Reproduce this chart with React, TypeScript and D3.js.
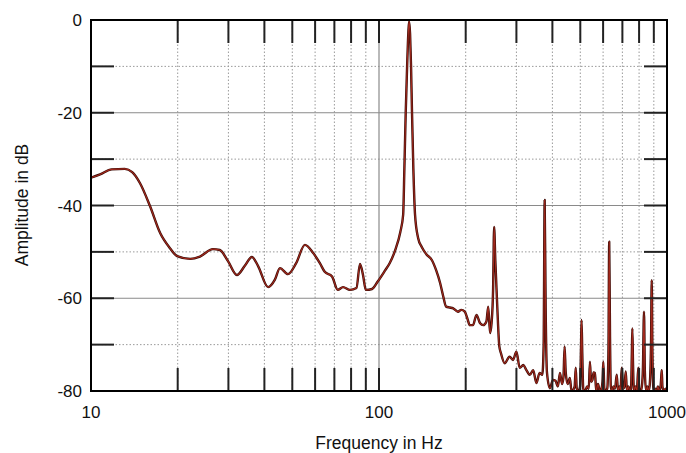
import React from "react";
import * as d3 from "d3";

// spectrum: low band, the 127 Hz tone, harmonics / floor
const lowHz = [10, 10.75, 11.8, 13.1, 13.9, 14.8, 16.0, 17.4, 18.8, 19.9, 22.1, 23.9, 26.5, 28, 29.9, 32.1, 34.2, 36.2, 38, 41.2, 43.5, 45.3, 48.3, 51.5, 55.3, 59, 62.4, 64.8, 68.7, 71.9, 75, 79.3, 83.5, 85.9, 88, 90, 94.6];
const lowDb = [-34, -33.3, -32.2, -32.1, -32.8, -35.2, -40, -46, -49.2, -50.9, -51.5, -51, -49.4, -49.6, -52, -55, -53, -51.1, -53, -57.6, -56, -53.5, -54.8, -52.5, -48.5, -50.2, -52.5, -54.3, -55.3, -58.2, -57.6, -58.2, -57.8, -52.6, -55, -58.2, -58];

const toneHz = [99, 105, 109, 114, 118.6, 121.3, 122.5, 123.8, 125.2, 126.5, 127.2, 128.2, 129.2, 130.2, 131.6, 133.4, 136.7, 140.9, 146, 152.7, 158, 163, 167];
const toneDb = [-56.4, -54, -52.4, -49.5, -45.7, -42, -32, -20, -10, -2.5, -0.3, -3, -10, -20, -32, -42, -47, -49, -50.5, -51.8, -54, -56.7, -59.5];

const harmHz = [171, 176, 181, 188, 193, 198.5, 203, 206.6, 212, 218, 224.5, 230, 236, 239.5, 243, 246, 249, 251, 253.5, 257.5, 261.7, 265, 273, 284, 292, 300, 308, 317, 325, 334, 343, 352, 361, 369, 373, 376, 379, 383, 392, 402, 410, 418, 425, 432, 437, 441, 445, 452, 460, 466, 472, 478, 482, 486, 493, 499, 503, 505, 508, 512, 520, 528, 535, 540, 545, 551, 556, 562, 568, 576, 584, 592, 597, 601, 606, 613, 620, 626, 630, 634, 638, 645, 652, 660, 669, 676, 684, 690, 696, 704, 712, 719, 726, 735, 742, 750, 755, 758, 762, 768, 777, 786, 795, 800, 810, 818, 825, 832, 838, 846, 855, 862, 870, 880, 885, 890, 898, 910, 920, 930, 940, 950, 955, 959, 964, 975, 990, 1000];
const harmDb = [-61.8, -62, -62.2, -62.9, -62.5, -62.9, -64.5, -65.8, -65.8, -63.6, -65.4, -65.8, -65, -61.8, -67.5, -65.3, -58, -44.6, -52, -62, -70.4, -71.8, -74, -72.6, -73.3, -71.5, -75, -74.4, -75.5, -76.5, -75.5, -78.3, -76.1, -76.5, -70, -38.8, -62, -76, -79.4, -77.6, -77.8, -79, -76.1, -78.5, -77, -70.4, -76, -78.5, -77.2, -80, -79.8, -79, -75, -79.5, -80, -79, -70, -64.7, -72, -79.5, -80, -79, -79.5, -73.7, -78, -77.6, -76, -76.1, -80, -78.5, -80, -79.5, -78, -73.7, -79.5, -80, -79.5, -72, -47.8, -68, -79, -80, -79, -79.5, -76.5, -80, -79, -80, -75, -79.5, -79, -75.8, -80, -79, -80, -79.5, -72, -66.5, -74, -80, -79, -80, -75, -79.5, -80, -79, -75, -62.9, -76, -80, -79, -80, -79, -70, -56.1, -72, -80, -79.5, -80, -79, -80, -79, -77, -75.5, -79, -80, -79.5, -80];

const xLabels = [10, 100, 1000];
const xMinor = [20, 30, 40, 50, 60, 70, 80, 90, 200, 300, 400, 500, 600, 700, 800, 900];
const yLabels = [0, -20, -40, -60, -80];
const yMajor = [-20, -40, -60];
const yMinor = [-10, -30, -50, -70];
const yTicks = [0, -10, -20, -30, -40, -50, -60, -70, -80];

const W = 686;
const H = 453;
const margin = { top: 20, right: 19, bottom: 62, left: 91 };
const font = "'Liberation Sans', Arial, Helvetica, sans-serif";

export default function App() {
  const w = W - margin.left - margin.right;
  const h = H - margin.top - margin.bottom;

  const x = d3.scaleLog().domain([10, 1000]).range([0, w]);
  const y = d3.scaleLinear().domain([-80, 0]).range([h, 0]);

  const pts: [number, number][] = [];
  [[lowHz, lowDb], [toneHz, toneDb], [harmHz, harmDb]].forEach(([f, a]) => {
    f.forEach((v, i) => pts.push([v, a[i]]));
  });

  const line = d3
    .line<[number, number]>()
    .x((d) => x(d[0]))
    .y((d) => y(d[1]))
    .curve(d3.curveMonotoneX);
  const path = line(pts) || "";

  const tickLen = 23;
  const allX = [...xMinor, 100];

  return (
    <svg
      width={W}
      height={H}
      style={{ position: "absolute", left: 0, top: 0, background: "#fff" }}
    >
      <defs>
        <clipPath id="plot">
          <rect x={0} y={0} width={w} height={h} />
        </clipPath>
      </defs>
      <g transform={`translate(${margin.left}, ${margin.top})`}>
        {/* grid */}
        {xMinor.map((f) => (
          <line key={"vx" + f} x1={x(f)} x2={x(f)} y1={0} y2={h}
            stroke="#9a9a9a" strokeWidth={1} strokeDasharray="1.5 2" />
        ))}
        {yMinor.map((v) => (
          <line key={"hy" + v} x1={0} x2={w} y1={y(v)} y2={y(v)}
            stroke="#9a9a9a" strokeWidth={1} strokeDasharray="1.5 2" />
        ))}
        {yMajor.map((v) => (
          <line key={"my" + v} x1={0} x2={w} y1={y(v)} y2={y(v)}
            stroke="#8a8a8a" strokeWidth={1.2} />
        ))}
        <line x1={x(100)} x2={x(100)} y1={0} y2={h} stroke="#8a8a8a" strokeWidth={1.2} />

        {/* curve */}
        <g clipPath="url(#plot)">
          <path d={path} fill="none" stroke="#3a0c07" strokeWidth={2.4} strokeLinejoin="round" />
          <path d={path} fill="none" stroke="#a3291d" strokeWidth={1.1} strokeLinejoin="round" />
        </g>

        {/* ticks */}
        {allX.map((f) => (
          <g key={"tx" + f}>
            <line x1={x(f)} x2={x(f)} y1={0} y2={tickLen} stroke="#222" strokeWidth={2} />
            <line x1={x(f)} x2={x(f)} y1={h} y2={h - tickLen} stroke="#222" strokeWidth={2} />
          </g>
        ))}
        {yTicks.map((v) => (
          <g key={"ty" + v}>
            <line x1={0} x2={tickLen} y1={y(v)} y2={y(v)} stroke="#222" strokeWidth={2} />
            <line x1={w} x2={w - tickLen} y1={y(v)} y2={y(v)} stroke="#222" strokeWidth={2} />
          </g>
        ))}

        <rect x={0} y={0} width={w} height={h} fill="none" stroke="#000" strokeWidth={2} />

        {/* labels */}
        {yLabels.map((v) => (
          <text key={"ly" + v} x={-9} y={y(v)} dy="0.36em" textAnchor="end"
            fontFamily={font} fontSize={17} fill="#111">
            {v}
          </text>
        ))}
        {xLabels.map((f) => (
          <text key={"lx" + f} x={x(f)} y={h + 27} textAnchor="middle"
            fontFamily={font} fontSize={17} fill="#111">
            {f}
          </text>
        ))}
        <text x={x(100)} y={h + 58} textAnchor="middle" fontFamily={font}
          fontSize={17.5} fill="#111">
          Frequency in Hz
        </text>
        <text transform={`translate(${28 - margin.left}, ${205 - margin.top}) rotate(-90)`}
          textAnchor="middle" fontFamily={font} fontSize={17.5} fill="#111">
          Amplitude in dB
        </text>
      </g>
    </svg>
  );
}
